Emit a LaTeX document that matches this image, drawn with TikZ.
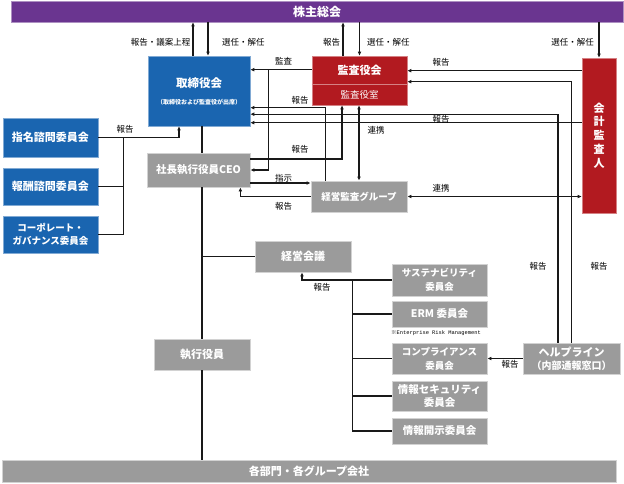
\documentclass[tikz,border=0pt]{standalone}
\usepackage{fontspec}
\setmainfont{Noto Sans CJK JP}
\newfontfamily\smallmono{Liberation Mono}
\usetikzlibrary{arrows.meta}
\definecolor{cpurple}{HTML}{6A3590}
\definecolor{cblue}{HTML}{1A65B0}
\definecolor{cred}{HTML}{B21A20}
\definecolor{cgrey}{HTML}{9B9B9B}
\newcommand\fsz[2]{\fontsize{#1}{#2}\selectfont}
\begin{document}
\begin{tikzpicture}[x=1pt,y=-1pt,
  box/.style={rectangle, inner sep=0pt, text=white, align=center},
  purplebox/.style={box, fill=cpurple, draw=cpurple!55!white, line width=0.6pt},
  bluebox/.style={box, fill=cblue, draw=cblue!55!white, line width=0.6pt},
  redbox/.style={box, fill=cred, draw=cred!55!white, line width=0.6pt},
  greybox/.style={box, fill=cgrey, draw=cgrey!45!white, line width=0.8pt},
  txt/.style={inner sep=0pt, text=white, align=center},
  lbl/.style={inner sep=0pt, text=black, font=\fsz{8.5}{10}},
  conn/.style={line width=1.1pt, draw=black!90},
  arr/.style={conn, -{Latex[length=4pt,width=3.8pt]}},
  arrb/.style={conn, {Latex[length=4pt,width=3.8pt]}-{Latex[length=4pt,width=3.8pt]}},
]
\useasboundingbox (0,0) rectangle (624,483);

% ---- boxes
\node[purplebox, minimum width=612, minimum height=21, font=\fsz{12}{14}\bfseries] (top) at (317,11.5) {株主総会};
\node[greybox, minimum width=614, minimum height=22, font=\fsz{11}{13}\bfseries] (bottom) at (309,471) {各部門・各グループ会社};

\node[bluebox, minimum width=102, minimum height=70] (board) at (199,91) {};
\node[txt, font=\fsz{11.5}{13}\bfseries] (boardt) at (199,83) {取締役会};
\node[txt, font=\fsz{6}{7}\bfseries] (boards) at (199,102) {（取締役および監査役が出席）};

\node[redbox, minimum width=95, minimum height=49] (audit) at (359.5,80.5) {};
\draw[cred!55!white, line width=0.8pt] (audit.west |- 0,84.5) -- (audit.east |- 0,84.5);
\node[txt, font=\fsz{11}{13}\bfseries] (auditt) at (359.5,70.5) {監査役会};
\node[txt, font=\fsz{9.5}{11}] (audits) at (359.5,95) {監査役室};

\node[redbox, minimum width=34, minimum height=155, font=\fsz{11}{13.8}\bfseries] (acc) at (599,135.5) {会\\計\\監\\査\\人};

\node[bluebox, minimum width=95, minimum height=39, font=\fsz{11}{13}\bfseries] (nom) at (50.5,137.5) {指名諮問委員会};
\node[bluebox, minimum width=95, minimum height=37, font=\fsz{11}{13}\bfseries] (rem) at (50.5,186.5) {報酬諮問委員会};
\node[bluebox, minimum width=95, minimum height=37, font=\fsz{9.5}{12.5}\bfseries] (gov) at (50.5,234.5) {コーポレート・\\ガバナンス委員会};

\node[greybox, minimum width=103, minimum height=34, font=\fsz{10.5}{12}\bfseries] (ceo) at (198.5,170) {社長執行役員CEO};
\node[greybox, minimum width=96, minimum height=31, font=\fsz{9.5}{11}\bfseries] (group) at (359,196.5) {経営監査グループ};
\node[greybox, minimum width=96, minimum height=31, font=\fsz{11}{13}\bfseries] (mgmt) at (303,256.5) {経営会議};
\node[greybox, minimum width=96, minimum height=31, font=\fsz{11}{13}\bfseries] (officers) at (202,354.5) {執行役員};

\node[greybox, minimum width=95, minimum height=32, font=\fsz{9.5}{14}\bfseries] (sust) at (439.5,280) {サステナビリティ\\委員会};
\node[greybox, minimum width=95, minimum height=26, font=\fsz{10.5}{12}\bfseries] (erm) at (439.5,314) {ERM 委員会};
\node[inner sep=0pt, anchor=west, font=\smallmono\fsz{5.4}{6}] (ermnote) at (391,333.5) {{\normalfont ※}Enterprise Risk Management};
\node[greybox, minimum width=95, minimum height=31, font=\fsz{9.5}{14}\bfseries] (compl) at (439.5,358.5) {コンプライアンス\\委員会};
\node[greybox, minimum width=95, minimum height=30, font=\fsz{10.5}{12.5}\bfseries] (infosec) at (439.5,396) {情報セキュリティ\\委員会};
\node[greybox, minimum width=95, minimum height=26, font=\fsz{10.5}{12}\bfseries] (disc) at (439.5,431) {情報開示委員会};
\node[greybox, minimum width=97, minimum height=31, font=\fsz{11}{12.5}\bfseries] (help) at (571.5,358.5) {ヘルプライン\\{\fsz{10}{12}（内部通報窓口）}};

% ---- connectors to shareholders
\draw[arr] ([xshift=-6pt]board.north) -- ([xshift=-6pt]board.north |- top.south);
\draw[arr] ([xshift=9pt]board.north |- top.south) -- ([xshift=9pt]board.north);
\draw[arr] ([xshift=-16.5pt]audit.north) -- ([xshift=-16.5pt]audit.north |- top.south);
\draw[arr] (audit.north |- top.south) -- (audit.north);
\draw[arr] (acc.north |- top.south) -- (acc.north);

% ---- audit board
\draw[arr] ([yshift=-14pt]audit.north west) -- ([yshift=-14pt]audit.north west -| board.east);
\draw[arr] ([yshift=-14pt,xshift=-43pt]audit.north west) |- (ceo.east);
\draw[arr] ([xshift=15pt]group.north west) |- ([yshift=-52pt]board.north east);
\draw[arr] ([yshift=11pt]ceo.east) -| ([xshift=-17.5pt]audit.south);
\draw[arrb] (audit.south -| group.north) -- (group.north);
\draw[arr] ([yshift=-13pt]ceo.east) -- ([yshift=-13pt]ceo.east -| group.west);
\draw[arr] (group.west) -| ([xshift=-10pt]ceo.south east);
\draw[arrb] (group.east) -- (group.east -| acc.west);

% ---- accounting auditor and helpline
\draw[arr] ([yshift=-13pt]acc.north west) -- ([yshift=-13pt]acc.north west -| audit.east);
\draw[arr] (help.north) |- ([yshift=-26pt]audit.north east);
\draw[arr] ([xshift=-13.5pt]help.north) |- ([yshift=-58.5pt]board.north east);
\draw[arr] ([yshift=-65pt]acc.north west) -- ([yshift=-65pt]acc.north west -| board.east);
\draw[arr] (help.west) -- (help.west -| compl.east);

% ---- advisory committees
\draw[conn] (nom.east) -- ([xshift=25pt]nom.east) |- (gov.east);
\draw[conn] (rem.east) -- ([xshift=25pt]rem.east);
\draw[arr] ([xshift=25pt]nom.east) -| ([xshift=-20pt]board.south);

% ---- spine
\draw[conn] (officers.north |- board.south) -- (officers.north |- ceo.north);
\draw[conn] (officers.north |- ceo.south) -- (officers.north);
\draw[conn] (officers.south) -- (officers.south |- bottom.north);
\draw[conn] (mgmt.west -| officers.north) -- (mgmt.west);

% ---- management committees
\draw[arr] (sust.west) -| ([xshift=-1pt]mgmt.south);
\draw[conn] ([xshift=-39pt]sust.west) |- (disc.west);
\draw[conn] ([xshift=-39pt]erm.west) -- (erm.west);
\draw[conn] ([xshift=-39pt]compl.west) -- (compl.west);
\draw[conn] ([xshift=-39pt]infosec.west) -- (infosec.west);

% ---- labels
\node[lbl, anchor=east] (l1) at (190.5,42) {報告・議案上程};
\node[lbl, anchor=west] (l2) at (222,42) {選任・解任};
\node[lbl] (l3) at (331.5,42) {報告};
\node[lbl, anchor=west] (l4) at (367,42) {選任・解任};
\node[lbl] (l5) at (572.5,42) {選任・解任};
\node[lbl] (l6) at (283.5,61) {監査};
\node[lbl] (l7) at (441,62) {報告};
\node[lbl] (l8) at (300,100) {報告};
\node[lbl] (l9) at (441,119) {報告};
\node[lbl] (l10) at (376,130) {連携};
\node[lbl] (l11) at (300,149) {報告};
\node[lbl] (l12) at (283.5,178) {指示};
\node[lbl] (l13) at (441,188) {連携};
\node[lbl] (l14) at (283.5,206) {報告};
\node[lbl] (l15) at (125,129) {報告};
\node[lbl] (l16) at (322,287) {報告};
\node[lbl] (l17) at (510,364) {報告};
\node[lbl] (l18) at (538,266) {報告};
\node[lbl] (l19) at (599,266) {報告};
\end{tikzpicture}
\end{document}
